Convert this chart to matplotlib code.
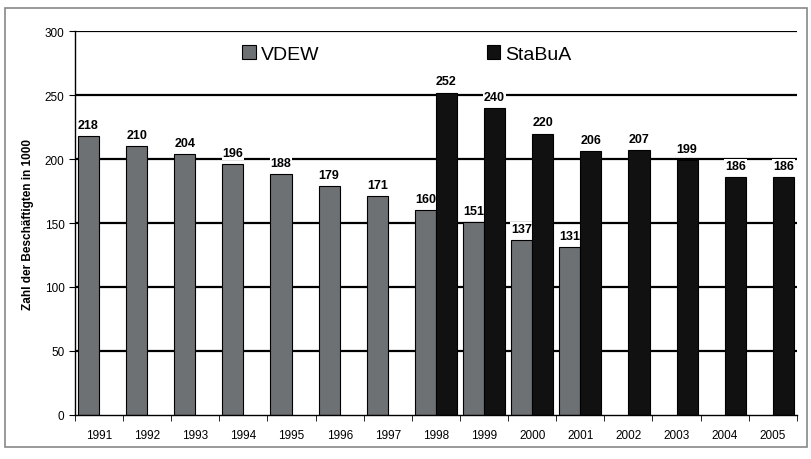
import numpy as np
import matplotlib.pyplot as plt
from matplotlib.patches import Rectangle

plt.rcParams["font.family"] = ["Liberation Sans", "DejaVu Sans"]

# data
years = ["1991", "1992", "1993", "1994", "1995", "1996", "1997", "1998",
         "1999", "2000", "2001", "2002", "2003", "2004", "2005"]
vdew_years = years[:11]
vdew = [218, 210, 204, 196, 188, 179, 171, 160, 151, 137, 131]
stabua_years = years[7:]
stabua = [252, 240, 220, 206, 207, 199, 186, 186]

grey = "#6e7174"
black = "#111111"
w = 0.44

fig = plt.figure(figsize=(8.11, 4.6), dpi=100)
ax = fig.add_axes([0.0925, 0.096, 0.890, 0.834])

# frame around the whole picture
fig.patches.append(Rectangle((0.006, 0.026), 0.989, 0.954, transform=fig.transFigure,
                             fill=False, edgecolor="#888888", linewidth=1.2))

x = np.arange(len(years))
xv = np.array([years.index(y) for y in vdew_years]) - w / 2
xs = np.array([years.index(y) for y in stabua_years]) + w / 2

for yv in range(50, 301, 50):
    ax.axhline(yv, color="black", linewidth=1.6, zorder=0)

ax.bar(xv, vdew, width=w, color=grey, edgecolor="black", linewidth=0.8,
       label="VDEW", zorder=2)
ax.bar(xs, stabua, width=w, color=black, edgecolor="black", linewidth=0.8,
       label="StaBuA", zorder=2)

for xi, v in zip(xv, vdew):
    ax.text(xi, v + 4, str(v), ha="center", va="bottom", fontsize=9, fontweight="bold",
            zorder=1, bbox=dict(facecolor="white", edgecolor="none", pad=0.6))
for xi, v in zip(xs, stabua):
    ax.text(xi, v + 4, str(v), ha="center", va="bottom", fontsize=9, fontweight="bold",
            zorder=1, bbox=dict(facecolor="white", edgecolor="none", pad=0.6))

ax.set_xlim(-0.5, len(years) - 0.5)
ax.set_ylim(0, 300)
ax.set_yticks(range(0, 301, 50))
ax.set_xticks(x)
ax.set_xticklabels(years, fontsize=8.5)
ax.set_xticks(np.arange(-0.5, len(years), 1), minor=True)
ax.tick_params(axis="x", which="major", length=0, pad=10)
ax.tick_params(axis="x", which="minor", length=4, direction="out")
ax.tick_params(axis="y", labelsize=8.5, length=4, direction="out")
ax.set_ylabel("Zahl der Beschäftigten in 1000", fontsize=8.5, fontweight="bold", labelpad=8)

for s in ["top", "right"]:
    ax.spines[s].set_visible(False)
ax.spines["left"].set_linewidth(1.0)
ax.spines["bottom"].set_linewidth(1.0)

ax.legend(loc="center left", bbox_to_anchor=(0.232, 0.94), ncol=2, frameon=False,
          fontsize=14, handlelength=0.7, handleheight=0.7, handletextpad=0.25,
          columnspacing=8.6, borderpad=0, borderaxespad=0)

plt.savefig("out.png", dpi=100)
